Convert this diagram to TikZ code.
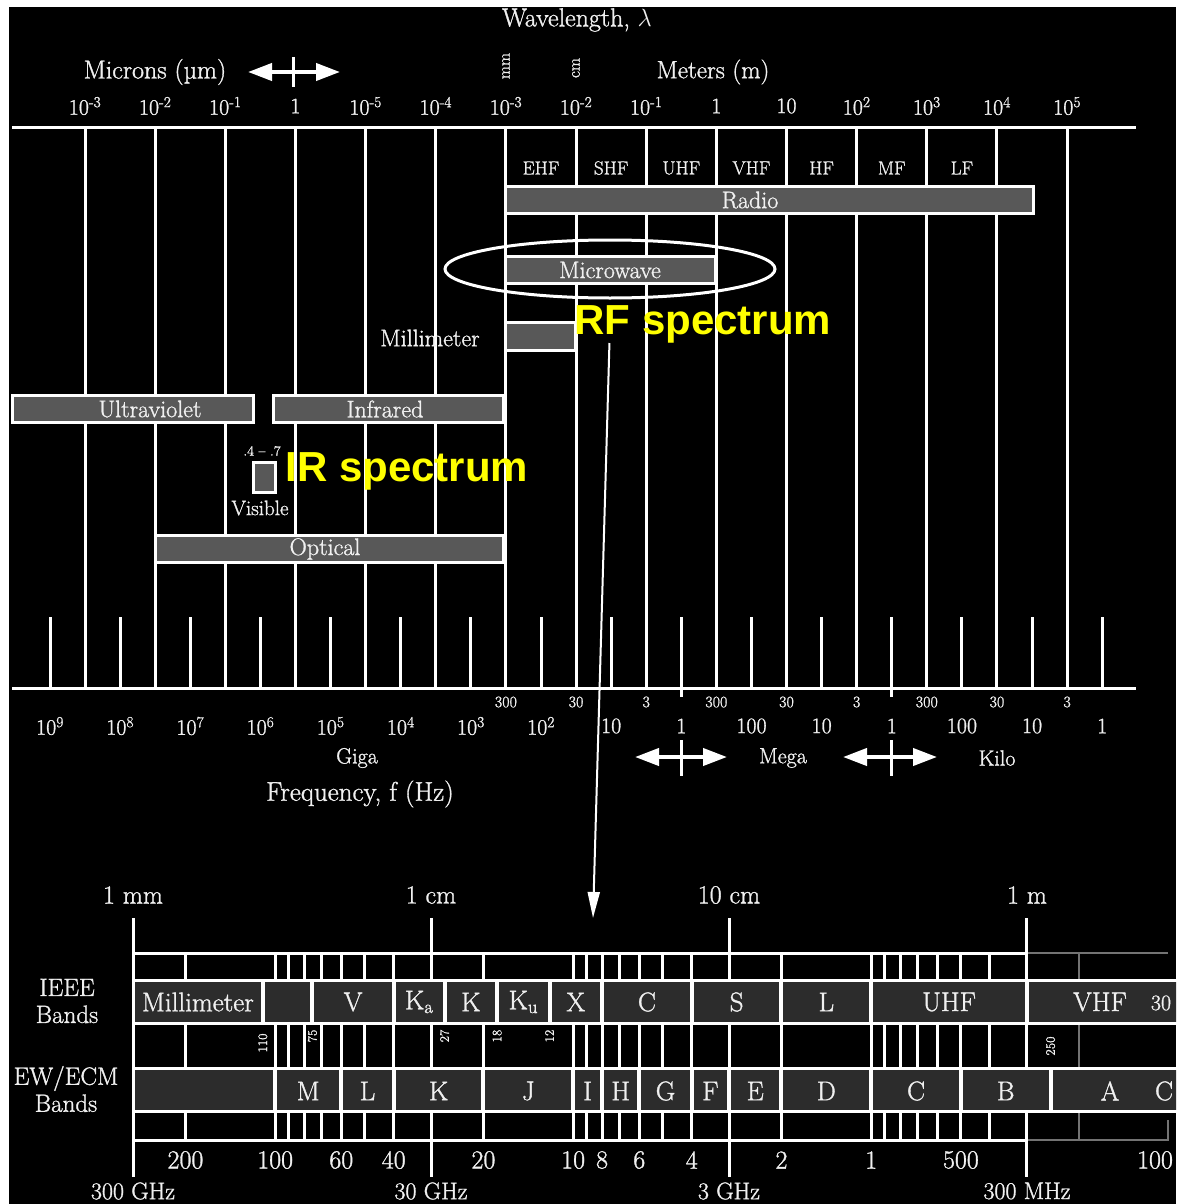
\documentclass[tikz,border=0pt]{standalone}
\usepackage{fontspec}
\setmainfont{Latin Modern Roman}[FakeBold=1.2]
\usetikzlibrary{arrows.meta,positioning,shapes.geometric}
\newfontfamily\hlfont{Liberation Sans}
\definecolor{barfill}{RGB}{88,88,88}
\definecolor{bandfill}{RGB}{44,44,44}
\definecolor{dimline}{RGB}{115,115,115}
\definecolor{inkwhite}{RGB}{240,240,240}
\definecolor{hlyellow}{RGB}{255,255,0}
\newcommand{\fs}[1]{\fontsize{#1}{#1}\selectfont}
\newcommand{\gx}[1]{133+298*log10(300/#1)}

\begin{document}
\begin{tikzpicture}[x=1pt,y=-1pt,
    every node/.style={text=inkwhite,inner sep=0pt},
    axisline/.style={draw=white,line width=3pt},
    barbox/.style={draw=white,fill=barfill,line width=3pt},
    bandbox/.style={fill=bandfill},
    barlbl/.style={font=\fs{24}},
    celllbl/.style={font=\fs{19}},
    ticklbl/.style={font=\fs{22}},
    smalllbl/.style={font=\fs{16}},
    bandlbl/.style={font=\fs{27}},
    edgenum/.style={font=\fs{13},rotate=90},
    hilite/.style={text=hlyellow,font=\hlfont\bfseries\fs{42}},
    dblarrow/.style={{Triangle[length=24pt,width=17pt]}-{Triangle[length=24pt,width=17pt]},draw=white,line width=4pt}]
  \useasboundingbox (0,0) rectangle (1176,1204);
  \clip (0,0) rectangle (1176,1204);
  \fill[white] (0,0) rectangle (1176,1204);
  \fill[black] (9,7) rectangle (1176,1204);

  % wavelength scale
  \node[font=\fs{26}] (wavelen) at (577,20) {Wavelength, $\lambda$};
  \node[font=\fs{26}] (microns) at (155,72) {Microns (µm)};
  \draw[dblarrow] (248,72) -- (340,72);
  \draw[axisline] (293,57) -- (293,87);
  \node[font=\fs{17},rotate=90] (mmlbl) at (506,66) {mm};
  \node[font=\fs{17},rotate=90] (cmlbl) at (576,68) {cm};
  \node[font=\fs{25}] (meters) at (713,72) {Meters (m)};
  \foreach \lab [count=\i from 0] in {10\textsuperscript{-3},10\textsuperscript{-2},10\textsuperscript{-1},1,10\textsuperscript{-5},10\textsuperscript{-4},10\textsuperscript{-3},10\textsuperscript{-2},10\textsuperscript{-1},1,10,10\textsuperscript{2},10\textsuperscript{3},10\textsuperscript{4},10\textsuperscript{5}}
    \node[ticklbl] (wl\i) at ({85+70.15*\i},106) {\lab};

  \draw[axisline] (12,128) -- (1136,128);
  \draw[axisline] (12,688) -- (1136,688);
  \foreach \i in {0,...,14}
    \draw[axisline] ({85+70.15*\i},128) -- ({85+70.15*\i},688);
  \foreach \i in {0,...,15}
    \draw[axisline] ({50+70.15*\i},617) -- ({50+70.15*\i},688);
  \draw[axisline] (681.4,688) -- (681.4,697);
  \draw[axisline] (891.8,688) -- (891.8,697);

  % bands
  \foreach \lab [count=\i from 0] in {EHF,SHF,UHF,VHF,HF,MF,LF}
    \node[celllbl] (rb\i) at ({85+70.15*(6.5+\i)},168) {\lab};
  \draw[barbox] (505,186) rectangle (1033,213);
  \node[barlbl] (radio) at (750,200) {Radio};
  \draw[barbox] (505,256) rectangle (715,283);
  \node[barlbl] (micro) at (610,270) {Microwave};
  \node[draw=white,line width=3pt,ellipse,minimum width=330pt,minimum height=58pt] (mwring) at (610,269) {};
  \draw[barbox] (505,322) rectangle (575,350);
  \node[barlbl] (mmwave) at (430,338) {Millimeter};
  \node[hilite] (rf) at (703,324) {RF spectrum};
  \draw[barbox] (12,395) rectangle (253,422);
  \node[barlbl] (uv) at (150,409) {Ultraviolet};
  \draw[barbox] (273,395) rectangle (503,422);
  \node[barlbl] (ir) at (385,409) {Infrared};
  \draw[barbox] (253,462) rectangle (275,492);
  \node[font=\fs{14}] (visrange) at (262,451) {.4 -- .7};
  \node[font=\fs{21}] (visible) at (260,508) {Visible};
  \node[hilite] (irs) at (407,471) {IR spectrum};
  \draw[barbox] (155,535) rectangle (503,562);
  \node[barlbl] (optical) at (325,549) {Optical};

  % frequency scale
  \foreach \lab [count=\i from 6] in {300,30,3,300,30,3,300,30,3}
    \node[smalllbl] (fu\i) at ({85+70.15*\i},702) {\lab};
  \foreach \lab [count=\i from 0] in {10\textsuperscript{9},10\textsuperscript{8},10\textsuperscript{7},10\textsuperscript{6},10\textsuperscript{5},10\textsuperscript{4},10\textsuperscript{3},10\textsuperscript{2},10,1,100,10,1,100,10,1}
    \node[ticklbl] (fl\i) at ({50+70.15*\i},726) {\lab};
  \node[font=\fs{22}] (giga) at (357,758) {Giga};
  \node[font=\fs{27}] (freq) at (360,794) {Frequency, f (Hz)};
  \node[font=\fs{22}] (mega) at (783,758) {Mega};
  \node[font=\fs{22}] (kilo) at (997,758) {Kilo};
  \draw[dblarrow] (635,757) -- (727,757);
  \draw[axisline] (681.4,740) -- (681.4,776);
  \draw[dblarrow] (843,757) -- (937,757);
  \draw[axisline] (891.8,740) -- (891.8,776);

  % zoom onto the RF chart
  \coordinate (rfhead) at (593,918);
  \draw[white,line width=2pt,-{Triangle[length=26pt,width=12pt]}] ([xshift=35pt]rf.south west) -- (rfhead);

  % RF band chart
  \foreach \f in {200,100,90,80,70,60,50,40,30,20,10,9,8,7,6,5,4,3,2,1,0.9,0.8,0.7,0.6,0.5,0.4,0.3}
    \draw[axisline] ({\gx{\f}},953) -- ({\gx{\f}},1140);
  \draw[dimline,line width=2pt] ({\gx{0.2}},953) -- ({\gx{0.2}},1140);
  \draw[axisline] (133,953) -- (1027,953);
  \draw[axisline] (133,1140) -- (1027,1140);
  \draw[dimline,line width=2pt] (1027,953) -- (1168,953);
  \draw[dimline,line width=2pt] (1027,1140) -- (1168,1140) -- (1168,1120);
  \foreach \f/\lab in {300/1 mm,30/1 cm,3/10 cm,0.3/1 m}
    \draw[axisline] ({\gx{\f}},918) -- ({\gx{\f}},1177);
  \foreach \f/\lab [count=\i] in {300/1 mm,30/1 cm,3/10 cm,0.3/1 m}
    \node[font=\fs{26}] (wtop\i) at ({\gx{\f}},895) {\lab};
  \foreach \f/\lab [count=\i] in {300/300 GHz,30/30 GHz,3/3 GHz,0.3/300 MHz}
    \node[font=\fs{24}] (fbot\i) at ({\gx{\f}},1191) {\lab};

  \fill[white] (133,979) rectangle (1176,1025);
  \fill[white] (133,1067) rectangle (1176,1113);
  \foreach \a/\b/\lab [count=\i] in {300/110/Millimeter,110/75/{},75/40/V,40/27/K\textsubscript{a},27/18/K,18/12/K\textsubscript{u},12/8/X,8/4/C,4/2/S,2/1/L,1/0.3/UHF}{
    \pgfmathsetmacro\xa{\gx{\a}+2}
    \pgfmathsetmacro\xb{\gx{\b}-2}
    \fill[bandbox] (\xa,982) rectangle (\xb,1022);
    \node[bandlbl] (ieee\i) at ({(\xa+\xb)/2},1002) {\lab};
  }
  \fill[bandbox] ({\gx{0.3}+2},982) rectangle (1180,1022);
  \node[bandlbl] (vhf) at (1100,1002) {VHF};
  \node[font=\fs{22}] (vhfend) at (1161,1003) {30};
  \foreach \a/\b/\lab [count=\i] in {300/100/{},100/60/M,60/40/L,40/20/K,20/10/J,10/8/I,8/6/H,6/4/G,4/3/F,3/2/E,2/1/D,1/0.5/C,0.5/0.25/B}{
    \pgfmathsetmacro\xa{\gx{\a}+2}
    \pgfmathsetmacro\xb{\gx{\b}-2}
    \fill[bandbox] (\xa,1070) rectangle (\xb,1110);
    \node[bandlbl] (ew\i) at ({(\xa+\xb)/2},1091) {\lab};
  }
  \fill[bandbox] ({\gx{0.25}+2},1070) rectangle (1180,1110);
  \node[bandlbl] (ewa) at (1110,1091) {A};
  \node[bandlbl] (ewend) at (1164,1091) {C};

  \foreach \f/\lab/\y [count=\i] in {110/110/1043,75/75/1036,27/27/1036,18/18/1036,12/12/1036,0.25/250/1046}
    \node[edgenum] (edge\i) at ({\gx{\f}},\y) {\lab};
  \foreach \f/\lab [count=\i] in {200/200,100/100,60/60,40/40,20/20,10/10,8/8,6/6,4/4,2/2,1/1,0.5/500}
    \node[font=\fs{26}] (gb\i) at ({\gx{\f}},1160) {\lab};
  \node[font=\fs{26}] (gbend) at (1155,1160) {100};

  \node[font=\fontsize{25}{27}\selectfont,align=center] (ieee) at (67,1001) {IEEE\\Bands};
  \node[font=\fontsize{25}{27}\selectfont,align=center] (ewecm) at (66,1089) {EW/ECM\\Bands};
\end{tikzpicture}
\end{document}
